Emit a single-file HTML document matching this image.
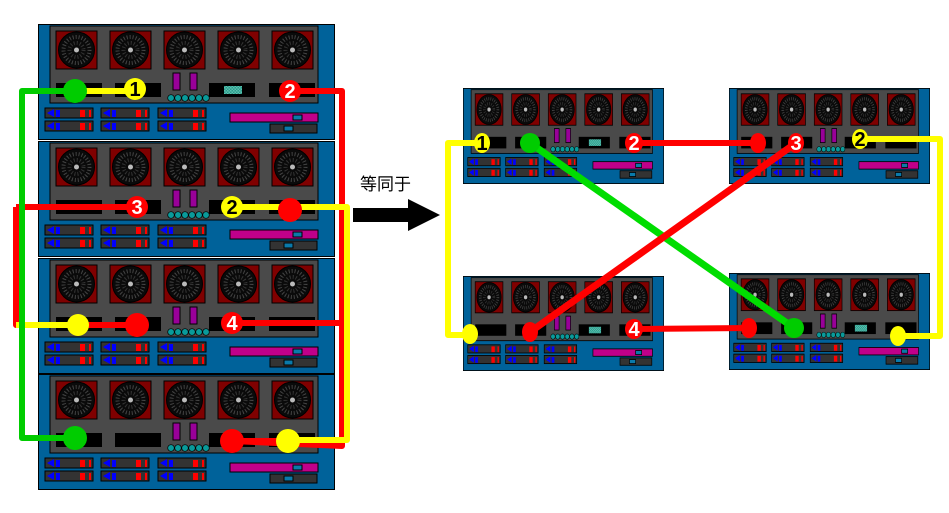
<!DOCTYPE html>
<html><head><meta charset="utf-8"><style>body{margin:0;background:#fff}svg{display:block}</style></head><body>
<svg width="949" height="513" viewBox="0 0 949 513" xmlns="http://www.w3.org/2000/svg" font-family="Liberation Sans, Noto Sans CJK SC, sans-serif">
<defs>
<pattern id="chk" width="3" height="3" patternUnits="userSpaceOnUse"><rect width="3" height="3" fill="#2a9a8a"/><rect width="1.5" height="1.5" fill="#5cc0b0"/><rect x="1.5" y="1.5" width="1.5" height="1.5" fill="#5cc0b0"/></pattern>
<g id="fan"><rect width="41" height="38" fill="#800000" stroke="#000"/><circle cx="20.5" cy="19" r="18" fill="#0a0a0a" stroke="#000"/><circle cx="20.5" cy="19" r="13" fill="none" stroke="#444" stroke-width="4" stroke-dasharray="1 2"/><circle cx="20.5" cy="19" r="7" fill="none" stroke="#333" stroke-width="4" stroke-dasharray="1 2"/><circle cx="20.5" cy="19" r="2.5" fill="#bbb"/></g>
<g id="drv"><rect width="48" height="10" fill="#333" stroke="#000"/><polygon points="2,5 9,1 9,9" fill="#00f"/><rect x="11" y="2" width="4" height="7" fill="#00f"/><rect x="35" y="2" width="5" height="7" fill="#f00"/><rect x="44" y="2" width="2" height="7" fill="#f00"/></g>
<symbol id="dev" viewBox="0 0 297 116" preserveAspectRatio="none">
<rect x="0.5" y="0.5" width="296" height="115" fill="#00629a" stroke="#000"/>
<rect x="12" y="2" width="268" height="77" fill="#4a4a4a" stroke="#000"/>
<use href="#fan" x="18" y="7"/><use href="#fan" x="72" y="7"/><use href="#fan" x="126" y="7"/><use href="#fan" x="180" y="7"/><use href="#fan" x="234" y="7"/>
<rect x="18" y="59" width="46" height="14" fill="#000"/><rect x="77" y="59" width="46" height="14" fill="#000"/><rect x="171" y="59" width="46" height="14" fill="#000"/><rect x="186" y="62" width="18" height="8" fill="url(#chk)"/><rect x="231" y="59" width="46" height="14" fill="#000"/>
<rect x="135" y="49" width="7" height="17" fill="#909" stroke="#000"/><rect x="152" y="49" width="7" height="17" fill="#909" stroke="#000"/>
<g fill="#0a9a9a" stroke="#000" stroke-width="0.7"><circle cx="133" cy="74" r="3.3"/><circle cx="140" cy="74" r="3.3"/><circle cx="147" cy="74" r="3.3"/><circle cx="154" cy="74" r="3.3"/><circle cx="161" cy="74" r="3.3"/><circle cx="168" cy="74" r="3.3"/></g>
<use href="#drv" x="7" y="84"/><use href="#drv" x="63" y="84"/><use href="#drv" x="120" y="84"/>
<use href="#drv" x="7" y="97"/><use href="#drv" x="63" y="97"/><use href="#drv" x="120" y="97"/>
<rect x="192" y="89" width="88" height="9" fill="#c0008a" stroke="#000"/><rect x="255" y="91" width="9" height="5" fill="#0a7aaa" stroke="#000"/>
<rect x="232" y="100" width="47" height="9" fill="#333" stroke="#000"/><rect x="246" y="102" width="9" height="5" fill="#0a7aaa" stroke="#000"/>
</symbol>
</defs>
<use href="#dev" x="38" y="24" width="297" height="116"/>
<use href="#dev" x="38" y="141" width="297" height="116"/>
<use href="#dev" x="38" y="258" width="297" height="116"/>
<use href="#dev" x="38" y="374" width="297" height="116"/>
<use href="#dev" x="463" y="88" width="201" height="96"/>
<use href="#dev" x="729" y="88" width="201" height="96"/>
<use href="#dev" x="463" y="276" width="201" height="95"/>
<use href="#dev" x="729" y="273" width="201" height="97"/>

<g fill="none" stroke-width="6" stroke-linejoin="round">
<polyline points="16,207 16,325 137,325" stroke="#f00"/>
<polyline points="137,207 16,207" stroke="#f00"/>
<polyline points="78,325 16,325" stroke="#ff0"/>
<polyline points="75,91 22,91 22,438 75,438" stroke="#0c0"/>
<line x1="75" y1="91" x2="135" y2="91" stroke="#ff0"/>
<polyline points="290,91 342,91 342,446 232,441" stroke="#f00"/>
<polyline points="232,323 342,323" stroke="#f00"/>
<polyline points="232,441 290,441" stroke="#f00"/>
<polyline points="232,207 347,207 347,440 288,440" stroke="#ff0"/>
<polyline points="482,143 448,143 448,335 470,335" stroke="#ff0"/>
<line x1="634" y1="143" x2="758" y2="143" stroke="#f00"/>
<line x1="634" y1="329" x2="749" y2="328" stroke="#f00"/>
<polyline points="860,139 940,139 940,336 898,336" stroke="#ff0"/>
</g>
<g stroke-width="7">
<line x1="530" y1="143" x2="794" y2="328" stroke="#0d0"/>
<line x1="796" y1="143" x2="530" y2="332" stroke="#f00"/>
</g>
<g>
<circle cx="75" cy="91" r="12" fill="#0c0"/>
<circle cx="75" cy="438" r="12" fill="#0c0"/>
<circle cx="290" cy="210" r="12" fill="#f00"/>
<circle cx="78" cy="325" r="11" fill="#ff0"/>
<circle cx="137" cy="325" r="12" fill="#f00"/>
<circle cx="232" cy="441" r="12" fill="#f00"/>
<circle cx="288" cy="441" r="12" fill="#ff0"/>
<circle cx="530" cy="143" r="10" fill="#0c0"/>
<ellipse cx="758" cy="143" rx="8" ry="10" fill="#f00"/>
<ellipse cx="530" cy="332" rx="8" ry="10" fill="#f00"/>
<ellipse cx="749" cy="328" rx="8" ry="10" fill="#f00"/>
<ellipse cx="794" cy="328" rx="10" ry="10" fill="#0c0"/>
<ellipse cx="470" cy="334" rx="8" ry="10" fill="#ff0"/>
<ellipse cx="898" cy="336" rx="8" ry="10" fill="#ff0"/>
</g>
<g font-weight="bold" font-size="20" text-anchor="middle">
<circle cx="135" cy="89" r="11" fill="#ff0"/><text x="135" y="96" fill="#000">1</text>
<circle cx="290" cy="91" r="11" fill="#f00"/><text x="290" y="98" fill="#fff">2</text>
<circle cx="137" cy="207" r="11" fill="#f00"/><text x="137" y="214" fill="#fff">3</text>
<circle cx="232" cy="207" r="11" fill="#ff0"/><text x="232" y="214" fill="#000">2</text>
<circle cx="232" cy="323" r="11" fill="#f00"/><text x="232" y="330" fill="#fff">4</text>
<ellipse cx="482" cy="143" rx="8" ry="10" fill="#ff0"/><text x="482" y="150" fill="#000">1</text>
<ellipse cx="634" cy="143" rx="9" ry="10" fill="#f00"/><text x="634" y="150" fill="#fff">2</text>
<ellipse cx="796" cy="143" rx="8" ry="10" fill="#f00"/><text x="796" y="150" fill="#fff">3</text>
<ellipse cx="860" cy="139" rx="8" ry="10" fill="#ff0"/><text x="860" y="146" fill="#000">2</text>
<ellipse cx="634" cy="329" rx="9" ry="10" fill="#f00"/><text x="634" y="336" fill="#fff">4</text>
</g>
<polygon points="353,208 408,208 408,199 440,215 408,231 408,222 353,222" fill="#000"/>
<text x="360" y="190" font-size="17" fill="#000">等同于</text>
</svg>
</body></html>
